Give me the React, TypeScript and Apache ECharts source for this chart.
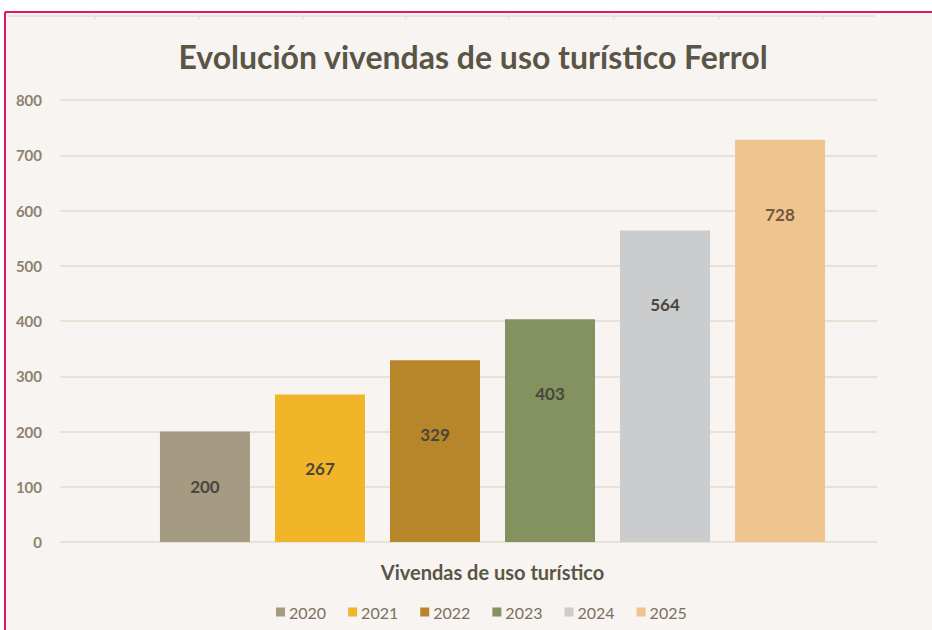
import React, { useEffect, useRef } from "react";
import * as echarts from "echarts";

const years = ["2020", "2021", "2022", "2023", "2024", "2025"];
const values = [200, 267, 329, 403, 564, 728];
const colors = ["#a59a82", "#f2b428", "#b8862a", "#84925f", "#cbcccd", "#f0c48e"];
const labelColors = ["#4a463c", "#4a463c", "#4a463c", "#4a463c", "#4a463c", "#6e5840"];
const category = ["Vivendas de uso turístico"];
const yTicks = { min: 0, max: 800, interval: 100 };

const FONT = "Lato, 'Open Sans', sans-serif";

export default function App() {
  const ref = useRef<HTMLDivElement>(null);
  useEffect(() => {
    if (!ref.current) return;
    const chart = echarts.init(ref.current, undefined, { renderer: "svg" });
    const topTicks = [95, 199, 303, 406, 509, 614, 719, 823];
    chart.setOption({
      animation: false,
      backgroundColor: "#ffffff",
      textStyle: { fontFamily: FONT },
      graphic: [
        { type: "rect", shape: { x: 5, y: 12, width: 940, height: 630 }, style: { fill: "#f7f4f2" }, z: -10 },
        { type: "line", shape: { x1: 8, y1: 16, x2: 875, y2: 16 }, style: { stroke: "#e6e0d0", lineWidth: 1.5 } },
        ...topTicks.map((x) => ({
          type: "line",
          shape: { x1: x, y1: 14, x2: x, y2: 20 },
          style: { stroke: "#e6e0d0", lineWidth: 1 },
        })),
        { type: "line", shape: { x1: 5, y1: 12, x2: 932, y2: 12 }, style: { stroke: "#e0186a", lineWidth: 2 }, z: 10 },
        { type: "line", shape: { x1: 5, y1: 12, x2: 5, y2: 630 }, style: { stroke: "#e0186a", lineWidth: 2 }, z: 10 },
      ],
      title: {
        text: "Evolución vivendas de uso turístico Ferrol",
        left: 468,
        textAlign: "center",
        top: 35,
        textStyle: { fontFamily: FONT, fontSize: 32, fontWeight: "bold", color: "#5a5545" },
      },
      legend: {
        data: years,
        bottom: 5,
        left: 271,
        itemWidth: 9,
        itemHeight: 9,
        itemGap: 22,
        icon: "rect",
        textStyle: { fontFamily: FONT, fontSize: 16, color: "#7a705c", padding: [0, 0, 0, -1] },
      },
      grid: [
        { left: 60, right: 55, top: 100, bottom: 88, containLabel: false },
        { left: 108, right: 55, top: 100, bottom: 88, containLabel: false },
      ],
      xAxis: [
        { type: "category", gridIndex: 0, data: [""], show: false },
        {
          type: "category",
          gridIndex: 1,
          data: category,
          axisLine: { show: false },
          axisTick: { show: false },
          axisLabel: { margin: 20, fontFamily: FONT, fontSize: 20, fontWeight: "bold", color: "#5a5545" },
        },
      ],
      yAxis: [
        {
          type: "value",
          gridIndex: 0,
          ...yTicks,
          axisLine: { show: false },
          axisTick: { show: false },
          axisLabel: { margin: 18, fontFamily: FONT, fontSize: 15, fontWeight: "bold", color: "#8c826e" },
          splitLine: { lineStyle: { color: "#e3dccb", width: 1.5 } },
        },
        { type: "value", gridIndex: 1, ...yTicks, show: false, splitLine: { show: false } },
      ],
      series: years.map((y, i) => ({
        name: y,
        type: "bar",
        xAxisIndex: 1,
        yAxisIndex: 1,
        data: [values[i]],
        barWidth: 90,
        barGap: "27.8%",
        itemStyle: { color: colors[i] },
        label: {
          show: true,
          position: i === 0 ? "inside" : "insideTop",
          distance: 66,
          fontFamily: FONT,
          fontSize: 17,
          fontWeight: "bold",
          color: labelColors[i],
        },
      })),
    });
    return () => chart.dispose();
  }, []);
  return <div ref={ref} style={{ position: "absolute", left: 0, top: 0, width: 932, height: 630 }} />;
}
